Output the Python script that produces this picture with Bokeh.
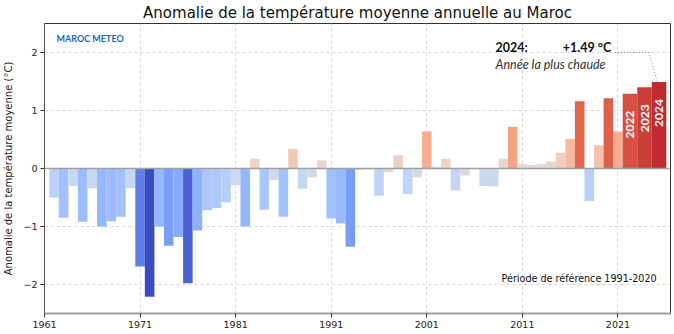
import numpy as np
from bokeh.plotting import figure
from bokeh.models import Range1d, FixedTicker, Span, Label, ColumnDataSource
from bokeh.core.properties import value
from bokeh.embed import file_html
from bokeh.resources import INLINE

# ---------------- data ----------------
years = list(range(1962, 2025))
anomalies = [
    -0.50, -0.85, -0.30, -0.92, -0.34, -1.00, -0.91, -0.83, -0.34,   # 1962-1970
    -1.69, -2.21, -1.00, -1.33, -1.18, -1.98, -1.07, -0.72, -0.68, -0.58,  # 1971-1980
    -0.29, -1.00, 0.17, -0.71, -0.20, -0.83, 0.34, -0.35, -0.15, 0.14,    # 1981-1990
    -0.86, -0.95, -1.35, -0.03, 0.00, -0.47, -0.06, 0.23, -0.44, -0.15,   # 1991-2000
    0.64, 0.03, 0.17, -0.38, -0.12, 0.00, -0.30, -0.31, 0.17, 0.72,       # 2001-2010
    0.08, 0.06, 0.08, 0.12, 0.27, 0.51, 1.16, -0.56, 0.40, 1.21,          # 2011-2020
    0.64, 1.29, 1.40, 1.49,                                               # 2021-2024
]
highlight_years = [2022, 2023, 2024]
x_tick_years = [1961, 1971, 1981, 1991, 2001, 2011, 2021]
y_ticks = [-2, -1, 0, 1, 2]
title_text = "Anomalie de la température moyenne annuelle au Maroc"
y_label = "Anomalie de la température moyenne (°C)"
ref_text = "Période de référence 1991-2020"
logo_text = "MAROC METEO"
record_year_text = "2024:"
record_value_text = "+1.49 °C"
record_note = "Année  la plus chaude"

# ---------------- coolwarm colormap ----------------
_r = [0.2298057, 0.26623388, 0.30386891, 0.342804478, 0.38301334, 0.424369608, 0.46666708,
      0.509635204, 0.552953156, 0.596262162, 0.639176211, 0.681291281, 0.722193294, 0.761464949,
      0.798691636, 0.833466556, 0.865395197, 0.897787179, 0.924127593, 0.944468518, 0.958852946,
      0.96732803, 0.969954137, 0.966811177, 0.958003065, 0.943660866, 0.923944917, 0.89904617,
      0.869186849, 0.834620542, 0.795631745, 0.752534934, 0.705673158]
_g = [0.298717966, 0.353094838, 0.406535296, 0.458757618, 0.50941904, 0.558148092, 0.604562568,
      0.648280772, 0.688929332, 0.726149107, 0.759599947, 0.788964712, 0.813952739, 0.834302879,
      0.849786142, 0.860207984, 0.86541021, 0.848937047, 0.827384882, 0.800927443, 0.769767752,
      0.734132809, 0.694266682, 0.650421156, 0.602842431, 0.551750968, 0.49730856, 0.439559467,
      0.378313092, 0.312874446, 0.24128379, 0.157246067, 0.01555616]
_b = [0.753683153, 0.801466763, 0.84495867, 0.883725899, 0.917387822, 0.945619588, 0.968154911,
      0.98478814, 0.995375608, 0.999836203, 0.998151185, 0.990363227, 0.976574709, 0.956945269,
      0.931688648, 0.901068838, 0.865395561, 0.820880546, 0.774508472, 0.726736146, 0.678007945,
      0.628751763, 0.579375448, 0.530263762, 0.481775914, 0.434243684, 0.387970225, 0.343229596,
      0.300267182, 0.259301199, 0.220525627, 0.184115123, 0.150232812]
_pos = np.linspace(0, 1, len(_r))


def coolwarm(t):
    t = min(max(t, 0.0), 1.0)
    r = np.interp(t, _pos, _r)
    g = np.interp(t, _pos, _g)
    b = np.interp(t, _pos, _b)
    return "#%02x%02x%02x" % (int(round(r * 255)), int(round(g * 255)), int(round(b * 255)))


VMIN, VMAX = -2.2, 1.6


def norm(v):
    if v < 0:
        return 0.5 - 0.5 * v / VMIN
    return 0.5 + 0.5 * v / VMAX


colors = [coolwarm(norm(v)) for v in anomalies]

# positions / widths (highlighted years drawn wider at the end)
HW = 1.52
xs, ws = [], []
k = 0
for y in years:
    if y in highlight_years:
        xs.append(2021.5 + HW * k + HW / 2)
        ws.append(HW)
        k += 1
    else:
        xs.append(y)
        ws.append(1.0)

src = ColumnDataSource(dict(x=xs, top=anomalies, w=ws, color=colors, year=[str(y) for y in years]))

p = figure(width=674, height=334, x_range=Range1d(1961, 2026.5), y_range=Range1d(-2.5, 2.5),
           output_backend="svg", toolbar_location=None,
           min_border_left=40, min_border_right=4, min_border_top=23, min_border_bottom=21)
p.background_fill_color = "white"
p.border_fill_color = "white"
p.outline_line_color = "#333333"
p.outline_line_width = 1

p.title.text = title_text
p.title.text_font = "DejaVu Sans"
p.title.text_font_size = "15px"
p.title.text_font_style = "normal"
p.title.align = "center"
p.title.text_color = "#111111"
p.title.standoff = 3

# grid
for g in (p.xgrid, p.ygrid):
    g.grid_line_color = "#cccccc"
    g.grid_line_dash = "3 3"
    g.grid_line_width = 0.8

p.xaxis.ticker = FixedTicker(ticks=x_tick_years)
p.yaxis.ticker = FixedTicker(ticks=y_ticks)
p.yaxis.major_label_overrides = {t: ("\u2212%d" % -t if t < 0 else "%d" % t) for t in y_ticks}
p.xaxis.major_label_overrides = {t: str(t) for t in x_tick_years}

for ax in (p.xaxis, p.yaxis):
    ax.minor_tick_line_color = None
    ax.major_tick_in = 0
    ax.major_tick_out = 4
    ax.major_tick_line_color = "#333333"
    ax.major_label_text_font = "DejaVu Sans"
    ax.major_label_text_font_size = "9.5px"
    ax.major_label_text_color = "#222222"
    ax.major_label_standoff = 3
p.xaxis.axis_line_color = "#a0a0a0"
p.xaxis.axis_line_width = 2
p.yaxis.axis_line_color = "#555555"
p.yaxis.axis_label = y_label
p.yaxis.axis_label_text_font = "DejaVu Sans"
p.yaxis.axis_label_text_font_size = "10px"
p.yaxis.axis_label_text_font_style = "normal"
p.yaxis.axis_label_text_color = "#222222"
p.yaxis.axis_label_standoff = 6

p.vbar(x="x", top="top", bottom=0, width="w", fill_color="color", line_color=None, source=src)

p.add_layout(Span(location=0, dimension="width", line_color="#a0a0a0", line_width=1.5))

# year labels inside highlighted bars
hi = [i for i, y in enumerate(years) if y in highlight_years]
hsrc = ColumnDataSource(dict(x=[xs[i] for i in hi], y=[anomalies[i] for i in hi],
                             t=[str(years[i]) for i in hi]))
p.text(x="x", y="y", text="t", source=hsrc, angle=np.pi / 2, text_align="right",
       text_baseline="middle", y_offset=17, text_color="white", text_font=value("Lato"),
       text_font_style="bold", text_font_size="12px")

# annotation for record year
rec_i = years.index(2024)
p.add_layout(Label(x=2008.2, y=2.09, text=record_year_text, text_font="Lato", text_font_style="bold",
                   text_font_size="12.5px", text_color="#111111", text_baseline="middle"))
p.add_layout(Label(x=2020.3, y=2.09, text=record_value_text, text_font="Lato", text_font_style="bold",
                   text_font_size="12.5px", text_color="#111111", text_baseline="middle",
                   text_align="right"))
p.add_layout(Label(x=2008.2, y=1.79, text=record_note, text_font="Lato", text_font_style="italic",
                   text_font_size="12.5px", text_color="#333333", text_baseline="middle"))
p.line(x=[2020.7, xs[rec_i] - 1.07, xs[rec_i] - 0.17], y=[2.0, 2.0, anomalies[rec_i]],
       line_color="#777777", line_width=0.9, line_dash="1 2")

# logo and reference period
p.add_layout(Label(x=1962.25, y=2.24, text=logo_text, text_font="Lato", text_font_style="bold",
                   text_font_size="9px", text_color="#1a68c0", text_baseline="middle"))
p.add_layout(Label(x=2025.05, y=-1.90, text=ref_text, text_font="DejaVu Sans",
                   text_font_size="9.6px", text_color="#111111", text_baseline="middle",
                   text_align="right"))

open("out.html", "w").write(file_html(p, INLINE))
